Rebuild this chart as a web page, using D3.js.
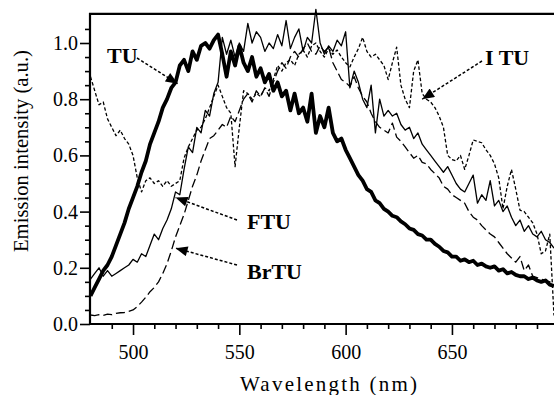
<!DOCTYPE html>
<html>
<head>
<meta charset="utf-8">
<script src="https://cdn.jsdelivr.net/npm/d3@7"></script>
<style>
  html, body { margin: 0; padding: 0; background: #fff; }
  svg { display: block; }
  text { font-family: "Liberation Serif", "Times New Roman", serif; fill: #000; }
</style>
</head>
<body>
<svg id="chart" width="554" height="395"></svg>
<script>
// ---------- data ----------
const wavelength = [
  480,482,484,486,488,490,492,494,496,498,
  500,502,504,506,508,510,512,514,516,518,
  520,522,524,526,528,530,532,534,536,538,
  540,542,544,546,548,550,552,554,556,558,
  560,562,564,566,568,570,572,574,576,578,
  580,582,584,586,588,590,592,594,596,598,
  600,602,604,606,608,610,612,614,616,618,
  620,622,624,626,628,630,632,634,636,638,
  640,642,644,646,648,650,652,654,656,658,
  660,662,664,666,668,670,672,674,676,678,
  680,682,684,686,688,690,692,694,696,698
];
const tuValues = [
  0.10,0.13,0.16,0.19,0.21,0.24,0.28,0.32,0.36,0.41,
  0.45,0.49,0.54,0.58,0.64,0.68,0.72,0.77,0.80,0.84,
  0.86,0.92,0.94,0.90,0.97,0.94,0.99,1.00,0.98,1.01,
  1.03,0.96,0.88,0.97,0.92,0.99,0.93,0.90,0.95,0.88,
  0.91,0.86,0.89,0.83,0.86,0.81,0.83,0.76,0.82,0.75,
  0.77,0.72,0.82,0.68,0.74,0.70,0.77,0.68,0.65,0.66,
  0.62,0.59,0.56,0.53,0.51,0.48,0.47,0.44,0.43,0.41,
  0.40,0.385,0.38,0.365,0.355,0.34,0.335,0.32,0.315,0.30,
  0.30,0.285,0.275,0.26,0.255,0.24,0.24,0.225,0.23,0.22,
  0.225,0.21,0.215,0.205,0.20,0.205,0.19,0.195,0.18,0.185,
  0.175,0.17,0.17,0.16,0.165,0.155,0.15,0.155,0.14,0.135
];
const ftuValues = [
  0.16,0.18,0.20,0.17,0.19,0.17,0.18,0.19,0.20,0.21,
  0.23,0.22,0.25,0.24,0.28,0.32,0.30,0.34,0.37,0.41,
  0.47,0.46,0.55,0.63,0.61,0.70,0.68,0.76,0.74,0.82,
  0.86,1.02,0.96,1.01,0.95,1.00,0.97,1.07,1.00,1.04,
  1.02,0.97,1.00,0.98,1.03,0.99,1.08,0.98,1.02,1.05,
  0.97,1.02,1.00,1.12,1.00,0.96,0.99,0.97,1.01,0.99,
  1.04,0.84,0.90,0.86,0.80,0.77,0.85,0.68,0.80,0.74,
  0.76,0.74,0.75,0.71,0.69,0.70,0.66,0.68,0.64,0.62,
  0.60,0.58,0.56,0.54,0.56,0.53,0.50,0.48,0.47,0.50,
  0.53,0.43,0.46,0.44,0.51,0.42,0.44,0.40,0.42,0.38,
  0.35,0.37,0.33,0.35,0.32,0.31,0.33,0.30,0.29,0.27
];
const brtuValues = [
  0.032,0.030,0.033,0.031,0.035,0.033,0.038,0.040,0.041,0.045,
  0.050,0.062,0.078,0.095,0.115,0.13,0.15,0.18,0.215,0.26,
  0.31,0.35,0.39,0.44,0.49,0.53,0.58,0.62,0.66,0.67,
  0.69,0.71,0.70,0.74,0.72,0.76,0.80,0.82,0.79,0.83,
  0.81,0.84,0.81,0.86,0.90,0.93,0.91,0.95,0.97,0.95,
  0.98,1.00,0.97,0.96,0.99,0.97,0.985,0.93,0.90,0.87,
  0.86,0.845,0.88,0.84,0.81,0.79,0.75,0.72,0.70,0.69,
  0.68,0.715,0.665,0.65,0.63,0.61,0.59,0.60,0.575,0.57,
  0.55,0.535,0.52,0.49,0.48,0.46,0.45,0.44,0.43,0.40,
  0.38,0.37,0.35,0.335,0.32,0.31,0.29,0.27,0.25,0.235,
  0.22,0.24,0.19,0.21,0.17,0.165,0.16,0.155,0.15,0.14
];
const ituValues = [
  0.88,0.83,0.78,0.79,0.73,0.70,0.67,0.69,0.66,0.64,
  0.60,0.52,0.47,0.51,0.52,0.50,0.51,0.49,0.51,0.49,
  0.50,0.51,0.59,0.63,0.66,0.69,0.70,0.73,0.77,0.81,
  0.85,0.81,0.77,0.75,0.56,0.70,0.83,0.82,0.80,0.82,
  0.81,0.84,0.83,0.87,0.92,0.90,0.93,0.94,0.92,0.96,
  0.975,0.95,0.99,1.00,0.97,0.95,0.98,0.96,0.975,0.95,
  0.93,0.915,0.95,0.98,1.02,0.97,0.95,0.96,0.94,0.92,
  0.87,0.93,0.985,0.85,0.80,0.77,0.90,0.94,0.82,0.80,
  0.79,0.77,0.74,0.70,0.60,0.585,0.58,0.60,0.55,0.60,
  0.655,0.65,0.645,0.62,0.60,0.57,0.52,0.41,0.49,0.55,
  0.48,0.405,0.40,0.38,0.36,0.32,0.25,0.26,0.32,0.03
];
const xMajorTicks = [500, 550, 600, 650];
const xMinorTicks = [490,510,520,530,540,560,570,580,590,610,620,630,640,660,670,680,690];
const yMajorTicks = [0.0, 0.2, 0.4, 0.6, 0.8, 1.0];
const yMinorTicks = [0.05,0.1,0.15,0.25,0.3,0.35,0.45,0.5,0.55,0.65,0.7,0.75,0.85,0.9,0.95,1.05];
const seriesNames = ["TU", "FTU", "BrTU", "ITU"];
const xTitle = "Wavelength (nm)";
const yTitle = "Emission intensity (a.u.)";

const SERIF = "'Liberation Serif', 'Times New Roman', serif";

// ---------- scales ----------
const svg = d3.select("#chart");
const x = d3.scaleLinear().domain([480, 698]).range([90.5, 554]);
const y = d3.scaleLinear().domain([0, 1.1]).range([324, 14.9]);

// ---------- lines ----------
const series = [
  { name: "ITU",  values: ituValues,  width: 1.3, dash: "3.5,2.2" },
  { name: "BrTU", values: brtuValues, width: 1.3, dash: "9,4" },
  { name: "FTU",  values: ftuValues,  width: 1.3, dash: null },
  { name: "TU",   values: tuValues,   width: 3.8, dash: null }
];
const line = d3.line().x(d => x(d[0])).y(d => y(d[1]));
series.forEach(s => {
  svg.append("path")
    .datum(wavelength.map((w, i) => [w, s.values[i]]))
    .attr("d", line)
    .attr("fill", "none")
    .attr("stroke", "#000")
    .attr("stroke-width", s.width)
    .attr("stroke-linejoin", "round")
    .attr("stroke-dasharray", s.dash);
});

// ---------- axes ----------
const xAxisMajor = d3.axisBottom(x).tickValues(xMajorTicks).tickSize(11).tickPadding(10).tickFormat(d3.format("d"));
const xAxisMinor = d3.axisBottom(x).tickValues(xMinorTicks).tickSize(5).tickFormat("");
const yAxisMajor = d3.axisLeft(y).tickValues(yMajorTicks).tickSize(10).tickPadding(2).tickFormat(d3.format(".1f"));
const yAxisMinor = d3.axisLeft(y).tickValues(yMinorTicks).tickSize(5).tickFormat("");

function styleAxis(g) {
  g.attr("font-family", null);
  g.select(".domain").remove();
  g.selectAll("line").attr("stroke", "#000").attr("stroke-width", 1.6);
  g.selectAll("text").style("font-family", SERIF).style("font-size", "20px").attr("fill", "#000");
}
svg.append("g").attr("transform", "translate(0,324)").call(xAxisMinor).call(styleAxis);
svg.append("g").attr("transform", "translate(0,324)").call(xAxisMajor).call(styleAxis);
svg.append("g").attr("transform", "translate(90,0)").call(yAxisMinor).call(styleAxis);
svg.append("g").attr("transform", "translate(90,0)").call(yAxisMajor).call(styleAxis);

// frame
const [yb, yt] = y.range();
svg.append("line").attr("x1", 90).attr("x2", 90).attr("y1", yt - 2).attr("y2", yb + 1)
  .attr("stroke", "#000").attr("stroke-width", 2.2);
svg.append("line").attr("x1", 89).attr("x2", 554).attr("y1", yb).attr("y2", yb)
  .attr("stroke", "#000").attr("stroke-width", 2.2);
svg.append("line").attr("x1", 89).attr("x2", 554).attr("y1", yt - 1).attr("y2", yt - 1)
  .attr("stroke", "#000").attr("stroke-width", 2.2);

// titles
svg.append("text")
  .attr("x", 240).attr("y", 391)
  .attr("textLength", 177).attr("lengthAdjust", "spacing")
  .style("font-family", SERIF)
  .style("font-size", "21px")
  .text(xTitle);
svg.append("text")
  .attr("transform", "translate(28,151) rotate(-90)")
  .attr("text-anchor", "middle")
  .attr("textLength", 202).attr("lengthAdjust", "spacingAndGlyphs")
  .style("font-family", SERIF)
  .style("font-size", "21px")
  .text(yTitle);

// ---------- annotations ----------
const defs = svg.append("defs");
defs.append("marker")
  .attr("id", "ah")
  .attr("viewBox", "0 0 12 10")
  .attr("refX", 12).attr("refY", 5)
  .attr("markerWidth", 13).attr("markerHeight", 10)
  .attr("markerUnits", "userSpaceOnUse")
  .attr("orient", "auto")
  .append("path").attr("d", "M0,0 L12,5 L0,10 Z").attr("fill", "#000");

const annotations = [
  { label: "TU",   tx: 107, ty: 63,  ax1: 137, ay1: 58,  wl: 521, val: 0.855 },
  { label: "I TU", tx: 485, ty: 65,  ax1: 482, ay1: 61,  wl: 636, val: 0.80 },
  { label: "FTU",  tx: 247, ty: 229, ax1: 237, ay1: 220, wl: 520, val: 0.45 },
  { label: "BrTU", tx: 247, ty: 279, ax1: 237, ay1: 265, wl: 520, val: 0.27 }
];
annotations.forEach(a => {
  svg.append("text")
    .attr("x", a.tx).attr("y", a.ty)
    .style("font-family", SERIF)
    .style("font-size", "22px").style("font-weight", "bold")
    .style("white-space", "pre")
    .text(a.label);
  svg.append("line")
    .attr("x1", a.ax1).attr("y1", a.ay1)
    .attr("x2", x(a.wl)).attr("y2", y(a.val))
    .attr("stroke", "#000").attr("stroke-width", 1.5)
    .attr("stroke-dasharray", "3,2")
    .attr("marker-end", "url(#ah)");
});
</script>
</body>
</html>
